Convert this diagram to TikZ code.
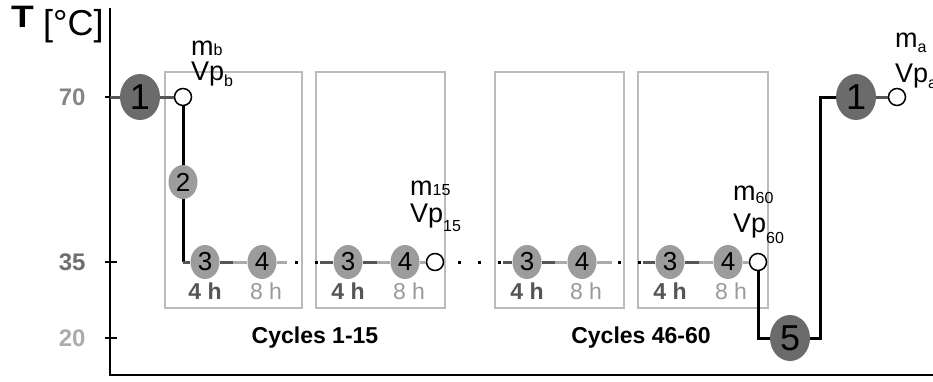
\documentclass[tikz,border=0pt]{standalone}
\usepackage{fontspec}
\setmainfont{Liberation Sans}
\usetikzlibrary{shapes.geometric}
\definecolor{darkfill}{HTML}{6B6B6B}
\definecolor{midfill}{HTML}{9C9C9C}
\definecolor{darkline}{HTML}{555555}
\definecolor{lightline}{HTML}{ABABAB}
\definecolor{boxline}{HTML}{BBBBBB}
\newcommand{\lowidx}[2][6]{\raisebox{-#1pt}{\fontsize{16}{16}\selectfont #2}}
\begin{document}
\begin{tikzpicture}[x=1pt,y=-1pt,
    bigstage/.style={ellipse,fill=darkfill,minimum width=40,minimum height=46,inner sep=0,font=\fontsize{36}{36}\selectfont},
    stage/.style={ellipse,fill=midfill,minimum width=29,minimum height=34,inner sep=0,font=\fontsize{26}{26}\selectfont},
    sample/.style={circle,draw=black,line width=1.5,fill=white,minimum size=17,inner sep=0},
    samplelabel/.style={anchor=base west,align=left,inner sep=0,font=\fontsize{27}{27}\selectfont},
    shorttime/.style={font=\fontsize{23}{23}\selectfont\bfseries,text=darkline},
    longtime/.style={font=\fontsize{23}{23}\selectfont,text=lightline!90!black},
    cyclebox/.style={draw=boxline,line width=1.2},
    blackpath/.style={draw=black,line width=3},
    darkpath/.style={draw=darkline,line width=3},
    lightpath/.style={draw=lightline,line width=3},
    dotpath/.style={draw=black,line width=3,dash pattern=on 3 off 17},
    templabel/.style={anchor=east,font=\fontsize{24}{24}\selectfont\bfseries,text=#1}]
\useasboundingbox (0,0) rectangle (933,381);

% axes
\draw[line width=2.5] (110,8) -- (110,375) -- (933,375);
\foreach \y in {97,262,338}
    \draw[line width=1.5] (105,\y) -- (117,\y);
\node[templabel=gray!95] (t70) at (89,97) {70};
\node[templabel=darkline!85] (t35) at (89,262) {35};
\node[templabel=lightline] (t20) at (89,338) {20};
\node[anchor=base west,inner sep=0] (tname) at (11,27) {\fontsize{31}{31}\selectfont\bfseries\scalebox{1.2}[1]{T}};
\node[anchor=base west,inner sep=0,font=\fontsize{36}{36}\selectfont] (tunit) at (43,35) {[°C]};

% cycle boxes
\draw[cyclebox] (165,72) rectangle (302,308);
\draw[cyclebox] (316,72) rectangle (445,308);
\draw[cyclebox] (495,72) rectangle (624,308);
\draw[cyclebox] (638,72) rectangle (768,308);

% stages
\node[bigstage] (s1) at (140,97) {1};
\node[sample] (pb) at (183,97) {};
\node[stage] (s2) at (183,182) {2};
\coordinate (k1) at (183,262);
\node[stage] (s3a) at (205,262) {3};
\node[stage] (s4a) at (262,262) {4};
\node[stage] (s3b) at (348,262) {3};
\node[stage] (s4b) at (405,262) {4};
\node[sample] (p15) at (435,262) {};
\node[stage] (s3c) at (527,262) {3};
\node[stage] (s4c) at (582,262) {4};
\node[stage] (s3d) at (670,262) {3};
\node[stage] (s4d) at (728,262) {4};
\node[sample] (p60) at (758,262) {};
\coordinate (k2) at (758,338);
\node[bigstage] (s5) at (790,338) {5};
\coordinate (k3) at (820,338);
\coordinate (k4) at (820,97);
\node[bigstage] (s1b) at (856,97) {1};
\node[sample] (pa) at (897,97) {};

% junctions on the 35 line
\coordinate (h1) at (233,262);
\coordinate (h2) at (287,262);
\coordinate (d1) at (295,262);
\coordinate (d2) at (320,262);
\coordinate (h3) at (377,262);
\coordinate (d3) at (458,262);
\coordinate (d4) at (503,262);
\coordinate (h4) at (555,262);
\coordinate (h5) at (612,262);
\coordinate (d5) at (618,262);
\coordinate (d6) at (643,262);
\coordinate (h6) at (699,262);

% connectors
\draw[darkpath] (110,97) -- (s1);
\draw[darkpath] (s1) -- (pb);
\draw[blackpath] (pb) -- (s2) -- (k1);
\draw[darkpath] (k1) -- (s3a);
\draw[darkpath] (s3a) -- (h1);
\draw[lightpath] (h1) -- (s4a);
\draw[lightpath] (s4a) -- (h2);
\draw[dotpath] (d1) -- (d2);
\draw[darkpath] (d2) -- (s3b);
\draw[darkpath] (s3b) -- (h3);
\draw[lightpath] (h3) -- (s4b);
\draw[lightpath] (s4b) -- (p15);
\draw[dotpath] (d3) -- (d4);
\draw[darkpath] (d4) -- (s3c);
\draw[darkpath] (s3c) -- (h4);
\draw[lightpath] (h4) -- (s4c);
\draw[lightpath] (s4c) -- (h5);
\draw[dotpath] (d5) -- (d6);
\draw[darkpath] (d6) -- (s3d);
\draw[darkpath] (s3d) -- (h6);
\draw[lightpath] (h6) -- (s4d);
\draw[lightpath] (s4d) -- (p60);
\draw[blackpath] (p60) -- (k2) -- (s5);
\draw[blackpath] (s5) -- (k3) -- (k4) -- (s1b);
\draw[darkpath] (s1b) -- (pa);

% hours
\node[shorttime] (ha3) at (205,291) {4 h};
\node[longtime] (ha4) at (266,291) {8 h};
\node[shorttime] (hb3) at (348,291) {4 h};
\node[longtime] (hb4) at (409,291) {8 h};
\node[shorttime] (hc3) at (527,291) {4 h};
\node[longtime] (hc4) at (586,291) {8 h};
\node[shorttime] (hd3) at (670,291) {4 h};
\node[longtime] (hd4) at (731,291) {8 h};

% samples
\node[samplelabel] (lb) at (191,80) {m\lowidx[0]{b}\\[-2pt]Vp\lowidx{b}};
\node[samplelabel] (l15) at (410,222) {m\lowidx[0]{15}\\Vp\lowidx[9]{15}};
\node[samplelabel] (l60) at (733,232) {m\lowidx[3]{60}\\[5pt]Vp\lowidx[11]{60}};
\node[samplelabel] (la) at (895,82) {m\lowidx[5]{a}\\[8pt]Vp\lowidx{a}};

% cycles
\node[font=\fontsize{23}{23}\selectfont\bfseries] (cy1) at (315,338) {Cycles 1-15};
\node[font=\fontsize{23}{23}\selectfont\bfseries] (cy2) at (641,338) {Cycles 46-60};
\end{tikzpicture}
\end{document}
